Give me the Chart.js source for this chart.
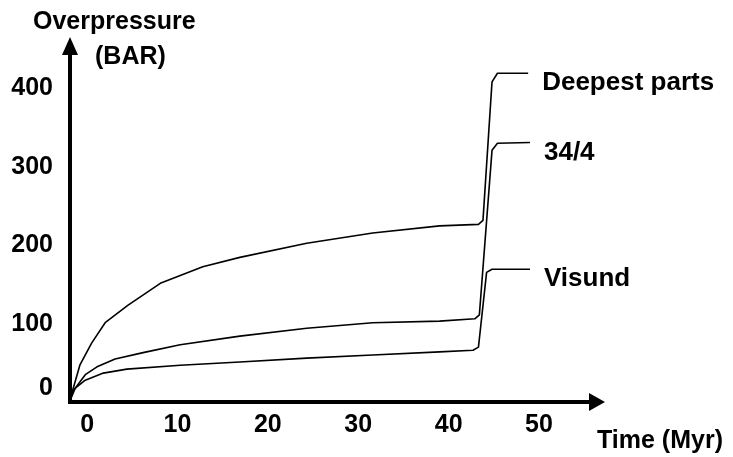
<!DOCTYPE html>
<html>
<head>
<meta charset="utf-8">
<script src="https://cdn.jsdelivr.net/npm/chart.js@4.4.1/dist/chart.umd.min.js"></script>
<style>
    body { margin: 0; background: #fff; }
    #wrap { width: 733px; height: 457px; }
</style>
</head>
<body>
<div id="wrap"><canvas id="pressureChart" width="733" height="457"></canvas></div>
<script>
// values (time in Myr, overpressure in bar)
const deepTime  = [-2, -0.8, 0.5, 2.0, 4.5, 8.1, 12.8, 16.9, 24.3, 31.6, 39.0, 43.3, 43.8, 44.8, 45.4, 48.8];
const deepPress = [0, 48, 76, 102, 124, 152, 173, 185, 203, 216, 225, 227, 232, 408, 419, 419];

const midTime  = [-2, -1.5, -0.2, 1.1, 3.1, 6.2, 10.3, 16.9, 24.3, 31.6, 39.0, 42.9, 43.4, 44.8, 45.4, 49.0];
const midPress = [0, 16, 36, 46, 56, 64, 74, 85, 95, 102, 104, 107, 112, 321, 330, 331];

const visTime  = [-2, -1.3, -0.2, 1.8, 4.4, 10.3, 16.9, 24.3, 31.6, 39.0, 42.7, 43.3, 44.2, 44.8, 49.0];
const visPress = [0, 19, 29, 38, 43, 48, 52, 57, 61, 65, 67, 71, 166, 170, 170];

const seriesNames = ['Deepest parts', '34/4', 'Visund'];
const xTicks = [0, 10, 20, 30, 40, 50];
const yTicks = [0, 100, 200, 300, 400];

const FONT = 'bold 25px "Liberation Sans", Arial, sans-serif';
const LABEL_FONT = 'bold 26px "Liberation Sans", Arial, sans-serif';

function toPoints(xs, ys) {
    return xs.map((x, i) => ({ x: x, y: ys[i] }));
}

// axes with arrow heads, tick labels, titles and the end labels
const drawingPlugin = {
    id: 'drawing',
    beforeDatasetsDraw(chart) {
        const ctx = chart.ctx;
        const a = chart.chartArea;
        ctx.save();
        ctx.strokeStyle = '#000';
        ctx.fillStyle = '#000';
        ctx.lineWidth = 4;

        // y axis
        ctx.beginPath();
        ctx.moveTo(a.left + 1, a.bottom + 1);
        ctx.lineTo(a.left + 1, a.top + 16);
        ctx.stroke();
        ctx.beginPath();
        ctx.moveTo(a.left + 1, a.top);
        ctx.lineTo(a.left - 7, a.top + 18);
        ctx.lineTo(a.left + 9, a.top + 18);
        ctx.closePath();
        ctx.fill();

        // x axis
        ctx.beginPath();
        ctx.moveTo(a.left - 1, a.bottom - 1);
        ctx.lineTo(a.right - 14, a.bottom - 1);
        ctx.stroke();
        ctx.beginPath();
        ctx.moveTo(a.right, a.bottom - 1);
        ctx.lineTo(a.right - 16, a.bottom - 10);
        ctx.lineTo(a.right - 16, a.bottom + 8);
        ctx.closePath();
        ctx.fill();
        ctx.restore();
    },
    afterDraw(chart) {
        const ctx = chart.ctx;
        const a = chart.chartArea;
        const xs = chart.scales.x;
        const ys = chart.scales.y;
        ctx.save();
        ctx.fillStyle = '#000';
        ctx.font = FONT;

        ctx.textAlign = 'center';
        ctx.textBaseline = 'middle';
        xTicks.forEach(t => {
            ctx.fillText(String(t), xs.getPixelForValue(t), a.bottom + 22);
        });

        ctx.textAlign = 'right';
        yTicks.forEach(v => {
            let py = ys.getPixelForValue(v);
            py = Math.min(py, a.bottom - 15);
            ctx.fillText(String(v), a.left - 16, py);
        });

        ctx.textAlign = 'left';
        ctx.fillText('Overpressure', 33, 22);
        ctx.fillText('(BAR)', 95, 57);
        ctx.fillText('Time (Myr)', 597, 441);

        // series names next to the last point of each line
        ctx.font = LABEL_FONT;
        chart.data.datasets.forEach((ds, i) => {
            const last = ds.data[ds.data.length - 1];
            ctx.fillText(seriesNames[i], xs.getPixelForValue(last.x) + 14, ys.getPixelForValue(last.y) + 10);
        });
        ctx.restore();
    }
};

const lineStyle = {
    borderColor: '#000',
    borderWidth: 1.6,
    borderJoinStyle: 'round',
    pointRadius: 0,
    tension: 0,
    fill: false
};

const ctx = document.getElementById('pressureChart').getContext('2d');
new Chart(ctx, {
    type: 'line',
    data: {
        datasets: [
            Object.assign({ label: seriesNames[0], data: toPoints(deepTime, deepPress) }, lineStyle),
            Object.assign({ label: seriesNames[1], data: toPoints(midTime, midPress) }, lineStyle),
            Object.assign({ label: seriesNames[2], data: toPoints(visTime, visPress) }, lineStyle)
        ]
    },
    options: {
        responsive: false,
        animation: false,
        layout: { padding: { left: 69, right: 128, top: 37, bottom: 54 } },
        plugins: {
            legend: { display: false },
            tooltip: { enabled: false }
        },
        scales: {
            x: { type: 'linear', min: -2, max: 57.3, display: false },
            y: { type: 'linear', min: 0, max: 465, display: false }
        }
    },
    plugins: [drawingPlugin]
});
</script>
</body>
</html>
